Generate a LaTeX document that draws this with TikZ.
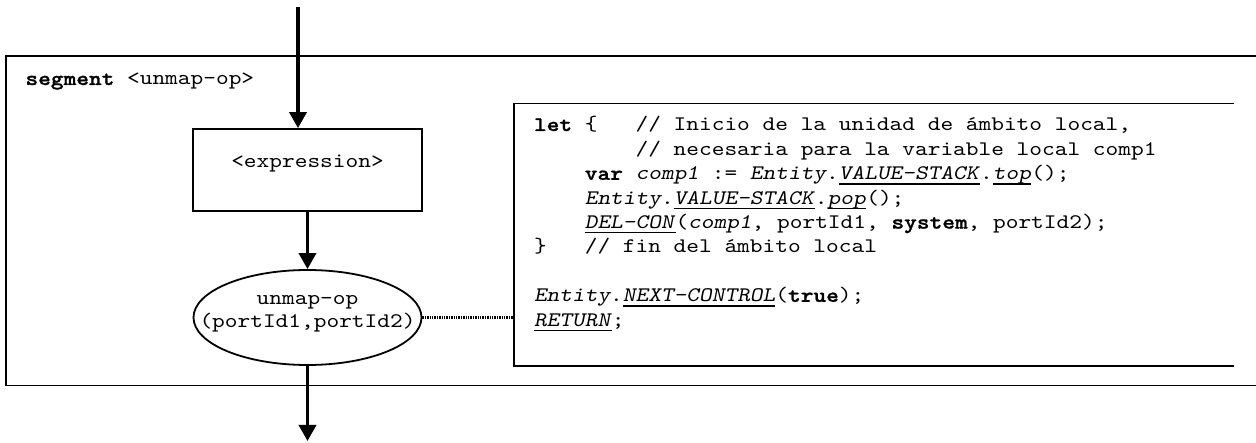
\documentclass[tikz,border=0pt]{standalone}
\usepackage{fontspec}
\newfontfamily\cour{lmmono10-regular}[Extension=.otf, ItalicFont=lmmonoslant10-regular, BoldFont=lmmonolt10-bold, BoldItalicFont=lmmonolt10-boldoblique, BoldFeatures={FakeBold=1.2}, FakeStretch=1.169]
\usetikzlibrary{arrows.meta,shapes.geometric}
\newcommand\sk[1]{\setbox1\hbox{x}\hspace*{#1\wd1}}
\newcommand\ulx[1]{\leavevmode\setbox0\hbox{#1}\rlap{\rule[-4.8pt]{\wd0}{1.3pt}}\box0}
\begin{document}
\begin{tikzpicture}[x=1pt,y=-1pt,
  txt/.style={font=\cour\fontsize{20.7}{24.4}\selectfont, inner sep=0pt, outer sep=0pt},
  frame/.style={line width=1.8pt},
  arr/.style={line width=3.5pt, -{Triangle[length=16pt,width=17pt]}},
  dotline/.style={line width=2.2pt, dash pattern=on 1.4pt off 1pt}]
\useasboundingbox (0,0) rectangle (1256,443);
% outer segment frame (open on the right)
\draw[frame] (1257,56) -- (6,56) -- (6,385.5) -- (1257,385.5);
\node[txt, anchor=base west] (seglabel) at (25.5,85) {\textbf{segment} <unmap-op>};
% expression box
\node[draw, frame, minimum width=229pt, minimum height=82pt, inner sep=0pt] (exprbox) at (307.5,170) {};
\node[txt, anchor=base] (exprlabel) at (307.5,168) {<expression>};
% ellipse
\node[draw, frame, ellipse, minimum width=228pt, minimum height=95pt, inner sep=0pt] (ell) at (307.5,317.5) {};
\node[txt, anchor=base] (ell1) at (307.5,305) {unmap-op};
\node[txt, anchor=base] (ell2) at (307.5,328) {(portId1,portId2)};
% code box (open on the right)
\coordinate (codew) at (514,318);
\draw[frame] (1234,103.5) -- (514,103.5) -- (514,366) -- (1234,366);
\node[txt, anchor=base west] (c1) at (534,131) {\textbf{let}\sk{1}\{\sk{3}// Inicio de la unidad de ámbito local,};
\node[txt, anchor=base west] (c2) at (534,155.4) {\sk{8}// necesaria para la variable local comp1};
\node[txt, anchor=base west] (c3) at (534,179.8) {\sk{4}\textbf{var} \textit{comp1} := \textit{Entity}.\ulx{\textit{VALUE-STACK}}.\ulx{\textit{top}}();};
\node[txt, anchor=base west] (c4) at (534,204.2) {\sk{4}\textit{Entity}.\ulx{\textit{VALUE-STACK}}.\ulx{\textit{pop}}();};
\node[txt, anchor=base west] (c5) at (534,228.6) {\sk{4}\ulx{\textit{DEL-CON}}(\textit{comp1}, portId1, \textbf{system}, portId2);};
\node[txt, anchor=base west] (c6) at (534,253.0) {\}\sk{3}// fin del ámbito local};
\node[txt, anchor=base west] (c7) at (534,301.8) {\textit{Entity}.\ulx{\textit{NEXT-CONTROL}}(\textbf{true});};
\node[txt, anchor=base west] (c8) at (534,326.2) {\ulx{\textit{RETURN}};};
% connectors
\coordinate (topin) at (298,7);
\coordinate (botout) at (307.5,441);
\draw[arr] (topin) -- (topin |- exprbox.north);
\draw[arr] (exprbox.south) -- (ell.north);
\draw[arr] (ell.south) -- (botout);
\draw[dotline] (ell.east) -- (ell.east -| codew);
\end{tikzpicture}
\end{document}
